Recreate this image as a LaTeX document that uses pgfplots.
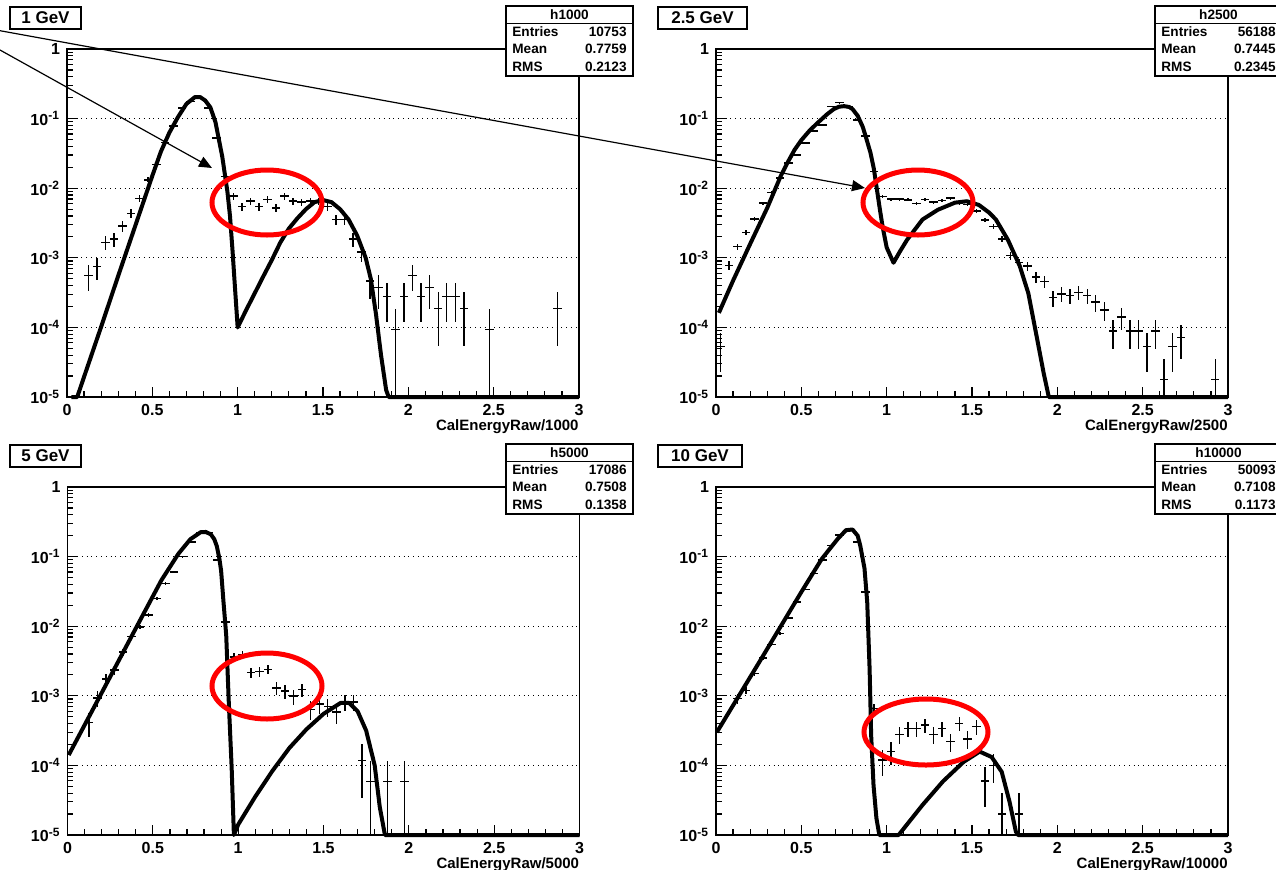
\documentclass[border=0pt]{standalone}
\usepackage{fontspec}
\setmainfont{Liberation Sans}
\usepackage{pgfplots}
\pgfplotsset{compat=1.18}
\usepackage{pgfplotstable}
\usetikzlibrary{arrows.meta}

\pgfplotstableread{
x y ep em
0.125 5.58e-4 2.28e-4 2.28e-4
0.175 7.44e-4 2.63e-4 2.63e-4
0.225 1.674e-3 3.95e-4 3.95e-4
0.275 1.86e-3 4.16e-4 4.16e-4
0.325 2.88e-3 5.18e-4 5.18e-4
0.375 4.37e-3 6.38e-4 6.38e-4
0.425 7.16e-3 8.16e-4 8.16e-4
0.475 0.0132 1.11e-3 1.11e-3
0.525 0.0220 1.43e-3 1.43e-3
0.575 0.0450 2.05e-3 2.05e-3
0.625 0.078 2.69e-3 2.69e-3
0.675 0.142 3.63e-3 3.63e-3
0.725 0.177 4.06e-3 4.06e-3
0.775 0.200 4.31e-3 4.31e-3
0.825 0.142 3.63e-3 3.63e-3
0.875 0.0530 2.22e-3 2.22e-3
0.925 0.0148 1.17e-3 1.17e-3
0.975 7.72e-3 8.47e-4 8.47e-4
1.025 5.49e-3 7.14e-4 7.14e-4
1.075 6.51e-3 7.78e-4 7.78e-4
1.125 5.49e-3 7.14e-4 7.14e-4
1.175 6.88e-3 8.0e-4 8.0e-4
1.225 5.21e-3 6.96e-4 6.96e-4
1.275 7.72e-3 8.47e-4 8.47e-4
1.325 6.51e-3 7.78e-4 7.78e-4
1.375 6.32e-3 7.67e-4 7.67e-4
1.425 6.51e-3 7.78e-4 7.78e-4
1.475 6.51e-3 7.78e-4 7.78e-4
1.525 5.49e-3 7.14e-4 7.14e-4
1.575 3.53e-3 5.73e-4 5.73e-4
1.625 3.53e-3 5.73e-4 5.73e-4
1.675 1.86e-3 4.16e-4 4.16e-4
1.725 1.21e-3 3.35e-4 3.35e-4
1.775 4.65e-4 2.08e-4 2.08e-4
1.825 3.72e-4 1.86e-4 1.86e-4
1.875 2.79e-4 1.61e-4 1.61e-4
1.925 9.3e-5 9.3e-5 8.3e-5
1.975 2.79e-4 1.61e-4 1.61e-4
2.025 5.58e-4 2.28e-4 2.28e-4
2.075 2.79e-4 1.61e-4 1.61e-4
2.125 3.72e-4 1.86e-4 1.86e-4
2.175 1.86e-4 1.315e-4 1.315e-4
2.225 2.79e-4 1.61e-4 1.61e-4
2.275 2.79e-4 1.61e-4 1.61e-4
2.325 1.86e-4 1.315e-4 1.315e-4
2.475 9.3e-5 9.3e-5 8.3e-5
2.875 1.86e-4 1.315e-4 1.315e-4
}\dataA

\pgfplotstableread{
x y ep em
0.025 5.34e-5 3.08e-5 3.08e-5
0.075 7.83e-4 1.18e-4 1.18e-4
0.125 1.44e-3 1.6e-4 1.6e-4
0.175 2.30e-3 2.02e-4 2.02e-4
0.225 3.63e-3 2.54e-4 2.54e-4
0.275 6.1e-3 3.3e-4 3.3e-4
0.325 8.7e-3 3.9e-4 3.9e-4
0.375 0.0141 5.0e-4 5.0e-4
0.425 0.0229 6.4e-4 6.4e-4
0.475 0.030 7.3e-4 7.3e-4
0.525 0.0447 8.9e-4 8.9e-4
0.575 0.066 1.08e-3 1.08e-3
0.625 0.081 1.2e-3 1.2e-3
0.675 0.15 1.63e-3 1.63e-3
0.725 0.17 1.74e-3 1.74e-3
0.775 0.15 1.63e-3 1.63e-3
0.825 0.096 1.3e-3 1.3e-3
0.875 0.056 1.0e-3 1.0e-3
0.925 0.0174 5.6e-4 5.6e-4
0.975 7.6e-3 3.7e-4 3.7e-4
1.025 7.0e-3 3.5e-4 3.5e-4
1.075 7.0e-3 3.5e-4 3.5e-4
1.125 6.8e-3 3.5e-4 3.5e-4
1.175 6.0e-3 3.3e-4 3.3e-4
1.225 6.9e-3 3.5e-4 3.5e-4
1.275 6.3e-3 3.3e-4 3.3e-4
1.325 6.6e-3 3.4e-4 3.4e-4
1.375 7.2e-3 3.6e-4 3.6e-4
1.425 6.1e-3 3.3e-4 3.3e-4
1.475 5.8e-3 3.2e-4 3.2e-4
1.525 4.7e-3 2.9e-4 2.9e-4
1.575 3.5e-3 2.5e-4 2.5e-4
1.625 2.8e-3 2.2e-4 2.2e-4
1.675 1.86e-3 1.8e-4 1.8e-4
1.725 1.07e-3 1.38e-4 1.38e-4
1.775 8.5e-4 1.23e-4 1.23e-4
1.825 7.6e-4 1.16e-4 1.16e-4
1.875 5.3e-4 9.7e-5 9.7e-5
1.925 4.6e-4 9.1e-5 9.1e-5
1.975 2.67e-4 6.9e-5 6.9e-5
2.025 3.03e-4 7.3e-5 7.3e-5
2.075 2.85e-4 7.1e-5 7.1e-5
2.125 3.2e-4 7.5e-5 7.5e-5
2.175 2.85e-4 7.1e-5 7.1e-5
2.225 2.31e-4 6.4e-5 6.4e-5
2.275 1.78e-4 5.6e-5 5.6e-5
2.325 8.9e-5 4.0e-5 4.0e-5
2.375 1.42e-4 5.0e-5 5.0e-5
2.425 8.9e-5 4.0e-5 4.0e-5
2.475 8.9e-5 4.0e-5 4.0e-5
2.525 5.34e-5 3.08e-5 3.08e-5
2.575 8.9e-5 4.0e-5 4.0e-5
2.625 1.78e-5 1.78e-5 0.78e-5
2.675 5.34e-5 3.08e-5 3.08e-5
2.725 7.12e-5 3.56e-5 3.56e-5
2.925 1.78e-5 1.78e-5 0.78e-5
}\dataB

\pgfplotstableread{
x y ep em
0.125 4.10e-4 1.55e-4 1.55e-4
0.175 9.36e-4 2.34e-4 2.34e-4
0.225 1.755e-3 3.2e-4 3.2e-4
0.275 2.34e-3 3.7e-4 3.7e-4
0.325 4.27e-3 5.0e-4 5.0e-4
0.375 7.08e-3 6.4e-4 6.4e-4
0.425 9.77e-3 7.6e-4 7.6e-4
0.475 0.0144 9.2e-4 9.2e-4
0.525 0.025 1.21e-3 1.21e-3
0.575 0.041 1.55e-3 1.55e-3
0.625 0.060 1.87e-3 1.87e-3
0.675 0.100 2.42e-3 2.42e-3
0.725 0.162 3.08e-3 3.08e-3
0.775 0.221 3.6e-3 3.6e-3
0.825 0.221 3.6e-3 3.6e-3
0.875 0.089 2.28e-3 2.28e-3
0.925 0.0115 8.2e-4 8.2e-4
0.975 3.6e-3 4.6e-4 4.6e-4
1.025 3.9e-3 4.8e-4 4.8e-4
1.075 2.16e-3 3.56e-4 3.56e-4
1.125 2.22e-3 3.6e-4 3.6e-4
1.175 2.4e-3 3.75e-4 3.75e-4
1.225 1.29e-3 2.74e-4 2.74e-4
1.275 1.17e-3 2.62e-4 2.62e-4
1.325 9.9e-4 2.41e-4 2.41e-4
1.375 1.23e-3 2.68e-4 2.68e-4
1.425 6.4e-4 1.94e-4 1.94e-4
1.475 7.6e-4 2.11e-4 2.11e-4
1.525 7.0e-4 2.03e-4 2.03e-4
1.575 5.85e-4 1.85e-4 1.85e-4
1.625 8.2e-4 2.19e-4 2.19e-4
1.675 8.2e-4 2.19e-4 2.19e-4
1.725 1.17e-4 8.3e-5 8.3e-5
1.775 5.85e-5 5.85e-5 4.85e-5
1.875 5.85e-5 5.85e-5 4.85e-5
1.975 5.85e-5 5.85e-5 4.85e-5
}\dataC

\pgfplotstableread{
x y ep em
0.125 9.1e-4 1.35e-4 1.35e-4
0.175 1.2e-3 1.55e-4 1.55e-4
0.225 2.1e-3 2.05e-4 2.05e-4
0.275 3.5e-3 2.65e-4 2.65e-4
0.325 5.5e-3 3.3e-4 3.3e-4
0.375 7.9e-3 4.0e-4 4.0e-4
0.425 0.0132 5.1e-4 5.1e-4
0.475 0.0224 6.7e-4 6.7e-4
0.525 0.034 8.2e-4 8.2e-4
0.575 0.0575 1.07e-3 1.07e-3
0.625 0.089 1.33e-3 1.33e-3
0.675 0.145 1.7e-3 1.7e-3
0.725 0.204 2.0e-3 2.0e-3
0.775 0.24 2.2e-3 2.2e-3
0.825 0.162 1.8e-3 1.8e-3
0.875 0.031 7.9e-4 7.9e-4
0.925 6.6e-4 1.15e-4 1.15e-4
0.975 1.2e-4 4.9e-5 4.9e-5
1.025 1.6e-4 5.7e-5 5.7e-5
1.075 2.8e-4 7.5e-5 7.5e-5
1.125 3.4e-4 8.2e-5 8.2e-5
1.175 3.4e-4 8.2e-5 8.2e-5
1.225 3.8e-4 8.7e-5 8.7e-5
1.275 2.8e-4 7.5e-5 7.5e-5
1.325 3.4e-4 8.2e-5 8.2e-5
1.375 2.2e-4 6.6e-5 6.6e-5
1.425 4.0e-4 8.9e-5 8.9e-5
1.475 2.4e-4 6.9e-5 6.9e-5
1.525 3.6e-4 8.5e-5 8.5e-5
1.575 6.0e-5 3.5e-5 3.5e-5
1.625 1.0e-4 4.5e-5 4.5e-5
1.675 2.0e-5 2.0e-5 1.0e-5
1.775 2.0e-5 2.0e-5 1.0e-5
}\dataD

\pgfplotsset{
  rootaxis/.style={
    scale only axis, width=256pt, height=174pt,
    xmin=0, xmax=3, ymin=1e-5, ymax=1,
    clip=false,
    axis line style={line width=0.6pt},
    major tick length=5pt, minor tick length=3pt,
    xtick={0,0.5,1,1.5,2,2.5,3},
    xticklabels={0,0.5,1,1.5,2,2.5,3},
    minor x tick num=4,
    ytick={1e-5,1e-4,1e-3,1e-2,1e-1,1},
    yticklabels={10\textsuperscript{-5},10\textsuperscript{-4},10\textsuperscript{-3},10\textsuperscript{-2},10\textsuperscript{-1},1},
    minor ytick={2e-5,3e-5,4e-5,5e-5,6e-5,7e-5,8e-5,9e-5,2e-4,3e-4,4e-4,5e-4,6e-4,7e-4,8e-4,9e-4,2e-3,3e-3,4e-3,5e-3,6e-3,7e-3,8e-3,9e-3,2e-2,3e-2,4e-2,5e-2,6e-2,7e-2,8e-2,9e-2,2e-1,3e-1,4e-1,5e-1,6e-1,7e-1,8e-1,9e-1},
    xtick pos=bottom, ytick pos=left,
    tick align=inside,
    tick style={black, line width=0.6pt},
    ymajorgrids, major grid style={black, dotted, line width=0.5pt},
    tick label style={font=\bfseries\fontsize{8}{9}\selectfont},
    xlabel style={at={(axis description cs:1,0)}, anchor=north east, inner sep=0pt, yshift=-11pt, font=\bfseries\fontsize{7.5}{9}\selectfont},
  },
  databar/.style={draw=none, mark=none,
    error bars/x dir=both, error bars/x fixed=0.025,
    error bars/y dir=both, error bars/y explicit,
    error bars/error mark=none,
    error bars/error bar style={draw=black, line width=0.7pt, solid}},
  fitcurve/.style={black, line width=2pt, mark=none, line join=round},
}

\tikzset{stat/.style={font=\bfseries\fontsize{6.8}{8}\selectfont, inner sep=0pt}}

\begin{document}
\begin{tikzpicture}
\path[use as bounding box] (0,0) rectangle (638pt,-434.5pt);

% ---------- 1 GeV ----------
\begin{semilogyaxis}[rootaxis, at={(33.5pt,-198.5pt)}, anchor=south west, xlabel={CalEnergyRaw/1000}]
\addplot[databar] table[x=x,y=y,y error plus=ep,y error minus=em] {\dataA};
\addplot[fitcurve] coordinates {(0.025,1e-5)(0.06,1e-5)(0.1,1.95e-5)(0.2,1.02e-4)(0.3,5.5e-4)(0.4,2.88e-3)(0.5,0.0151)(0.55,0.0335)(0.6,0.063)(0.65,0.105)(0.7,0.163)(0.75,0.204)(0.78,0.204)(0.81,0.182)(0.84,0.145)(0.87,0.089)(0.89,0.05)(0.91,0.0282)(0.925,0.0158)(0.94,0.0089)(0.955,0.004)(0.97,0.00126)(0.985,3.5e-4)(1.0,1e-4)(1.05,1.78e-4)(1.1,3.1e-4)(1.15,5.4e-4)(1.2,9.3e-4)(1.25,1.66e-3)(1.3,2.63e-3)(1.35,3.7e-3)(1.4,5.0e-3)(1.45,6.3e-3)(1.5,6.76e-3)(1.55,6.3e-3)(1.6,5.0e-3)(1.65,3.55e-3)(1.7,2.09e-3)(1.75,1e-3)(1.78,5e-4)(1.81,1.58e-4)(1.84,4e-5)(1.87,1.26e-5)(1.885,1e-5)(3,1e-5)};
\end{semilogyaxis}

% ---------- 2.5 GeV ----------
\begin{semilogyaxis}[rootaxis, at={(358pt,-198.5pt)}, anchor=south west, xlabel={CalEnergyRaw/2500}]
\addplot[databar] table[x=x,y=y,y error plus=ep,y error minus=em] {\dataB};
\addplot[fitcurve] coordinates {(0.017,1.62e-4)(0.1,4.7e-4)(0.2,1.58e-3)(0.3,5.2e-3)(0.38,0.0151)(0.42,0.0235)(0.46,0.0355)(0.5,0.049)(0.55,0.068)(0.6,0.089)(0.65,0.115)(0.69,0.137)(0.72,0.148)(0.75,0.151)(0.78,0.147)(0.8,0.137)(0.83,0.11)(0.86,0.076)(0.88,0.0525)(0.905,0.0324)(0.925,0.019)(0.94,0.0107)(0.96,0.005)(0.976,0.00282)(1.0,1.41e-3)(1.04,8.5e-4)(1.08,1.26e-3)(1.12,1.82e-3)(1.21,3.55e-3)(1.3,4.9e-3)(1.4,6.2e-3)(1.47,6.5e-3)(1.54,5.75e-3)(1.6,4.47e-3)(1.64,3.55e-3)(1.71,1.82e-3)(1.78,7.6e-4)(1.83,3.1e-4)(1.875,8.3e-5)(1.92,2.2e-5)(1.95,1e-5)(3,1e-5)};
\end{semilogyaxis}

% ---------- 5 GeV ----------
\begin{semilogyaxis}[rootaxis, at={(33.75pt,-417.5pt)}, anchor=south west, xlabel={CalEnergyRaw/5000}]
\addplot[databar] table[x=x,y=y,y error plus=ep,y error minus=em] {\dataC};
\addplot[fitcurve] coordinates {(0.007,1.41e-4)(0.2,1.1e-3)(0.4,9.3e-3)(0.55,0.0457)(0.65,0.11)(0.72,0.178)(0.78,0.224)(0.81,0.226)(0.84,0.209)(0.86,0.178)(0.875,0.141)(0.89,0.093)(0.9,0.063)(0.914,0.0224)(0.93,7.4e-3)(0.945,8.1e-4)(0.962,9.1e-5)(0.975,1e-5)(1.0,1.41e-5)(1.05,2.24e-5)(1.1,3.55e-5)(1.2,8.3e-5)(1.3,1.78e-4)(1.4,3.3e-4)(1.5,5.5e-4)(1.55,6.6e-4)(1.6,7.9e-4)(1.65,7.9e-4)(1.7,6.0e-4)(1.75,3.16e-4)(1.8,1e-4)(1.83,2.5e-5)(1.86,1e-5)(3,1e-5)};
\end{semilogyaxis}

% ---------- 10 GeV ----------
\begin{semilogyaxis}[rootaxis, at={(358pt,-417.5pt)}, anchor=south west, xlabel={CalEnergyRaw/10000}]
\addplot[databar] table[x=x,y=y,y error plus=ep,y error minus=em] {\dataD};
\addplot[fitcurve] coordinates {(0.005,3.0e-4)(0.25,2.95e-3)(0.5,0.031)(0.62,0.093)(0.715,0.182)(0.762,0.24)(0.8,0.245)(0.83,0.2)(0.845,0.145)(0.87,0.068)(0.886,0.0224)(0.9,2.45e-3)(0.909,2.75e-4)(0.923,5.2e-5)(0.94,1.74e-5)(0.957,1e-5)(1.07,1e-5)(1.21,2.7e-5)(1.33,5.9e-5)(1.45,1.12e-4)(1.545,1.58e-4)(1.615,1.32e-4)(1.674,8.1e-5)(1.72,3.0e-5)(1.757,1.12e-5)(1.77,1e-5)(3,1e-5)};
\end{semilogyaxis}

% ---------- annotations (pixel coordinates) ----------
\begin{scope}[x=0.5pt,y=-0.5pt]
  \draw[line width=0.75pt, fill=white] (10,7) rectangle (81,29);
  \node[font=\bfseries\fontsize{8.5}{10}\selectfont, inner sep=0pt] at (45.5,18) {1 GeV};
  \draw[line width=0.75pt, fill=white] (658,7) rectangle (747,29);
  \node[font=\bfseries\fontsize{8.5}{10}\selectfont, inner sep=0pt] at (702.5,18) {2.5 GeV};
  \draw[line width=0.75pt, fill=white] (10,445) rectangle (81,467);
  \node[font=\bfseries\fontsize{8.5}{10}\selectfont, inner sep=0pt] at (45.5,456) {5 GeV};
  \draw[line width=0.75pt, fill=white] (658,445) rectangle (742,467);
  \node[font=\bfseries\fontsize{8.5}{10}\selectfont, inner sep=0pt] at (700,456) {10 GeV};

  \foreach \bx/\by/\hn/\en/\mn/\rn in {506/6/h1000/10753/0.7759/0.2123, 1155/6/h2500/56188/0.7445/0.2345, 506/444/h5000/17086/0.7508/0.1358, 1155/444/h10000/50093/0.7108/0.1173}{
    \draw[line width=0.6pt, fill=white] (\bx,\by) rectangle ++(127,70);
    \draw[line width=0.6pt] (\bx,\by+17.5) -- ++(127,0);
    \node[stat] at (\bx+63.5,\by+9) {\hn};
    \node[stat, anchor=west] at (\bx+6,\by+26) {Entries};
    \node[stat, anchor=east] at (\bx+121,\by+26) {\en};
    \node[stat, anchor=west] at (\bx+6,\by+43) {Mean};
    \node[stat, anchor=east] at (\bx+121,\by+43) {\mn};
    \node[stat, anchor=west] at (\bx+6,\by+61) {RMS};
    \node[stat, anchor=east] at (\bx+121,\by+61) {\rn};
  }

  \draw[line width=0.6pt, -{Triangle[length=6.5pt,width=5.5pt]}] (0,30.7) -- (865,188);
  \draw[line width=0.6pt, -{Triangle[length=6.5pt,width=5.5pt]}] (0,50) -- (212,168);

  \draw[red, line width=2.5pt] (267,202.5) ellipse [x radius=55, y radius=32.5];
  \draw[red, line width=2.5pt] (918,202.5) ellipse [x radius=55, y radius=32.5];
  \draw[red, line width=2.5pt] (267,686) ellipse [x radius=55, y radius=33];
  \draw[red, line width=2.5pt] (926,732) ellipse [x radius=62, y radius=33];
\end{scope}
\end{tikzpicture}
\end{document}
